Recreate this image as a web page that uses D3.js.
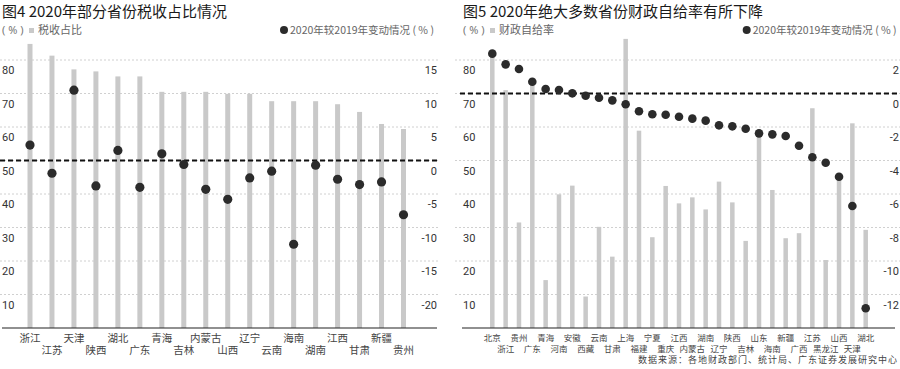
<!DOCTYPE html>
<html>
<head>
<meta charset="utf-8">
<script src="https://cdn.jsdelivr.net/npm/d3@7"></script>
<style>
  body { margin: 0; background: #fff; }
  svg { display: block; font-family: "Noto Sans CJK SC", "Noto Sans", sans-serif; }
</style>
</head>
<body>
<svg id="chart"></svg>
<script>
const width = 900;
const height = 369;

// 图4 data
const provincesA = ["浙江","江苏","天津","陕西","湖北","广东","青海","吉林","内蒙古","山西","辽宁","云南","海南","湖南","江西","甘肃","新疆","贵州"];
const taxShare = [84.8, 81.3, 77.2, 76.6, 75.1, 75.1, 70.5, 70.5, 70.5, 69.9, 69.9, 67.7, 67.7, 67.7, 66.8, 64.5, 60.9, 59.4];
const taxChange = [2.3, -1.9, 10.5, -3.8, 1.5, -4.0, 1.0, -0.6, -4.3, -5.8, -2.6, -1.6, -12.5, -0.7, -2.8, -3.6, -3.2, -8.1];

// 图5 data
const provincesB = ["北京","浙江","贵州","广东","青海","河南","安徽","西藏","云南","甘肃","上海","福建","宁夏","重庆","江西","内蒙古","湖南","辽宁","陕西","吉林","山东","海南","新疆","广西","江苏","黑龙江","山西","天津","湖北"];
const selfRate = [82, 71, 31.5, 73.5, 14.3, 39.9, 42.5, 9.4, 30.2, 21.3, 86.3, 58.9, 27.1, 42.4, 37.2, 39.0, 35.4, 43.7, 37.5, 26.0, 58, 41.2, 26.8, 28.3, 65.6, 20.3, 44.2, 61.1, 29.3];
const rateChange = [2.38, 1.74, 1.46, 0.70, 0.27, 0.21, 0.01, -0.13, -0.25, -0.41, -0.64, -1.06, -1.24, -1.27, -1.39, -1.50, -1.62, -1.90, -1.96, -2.10, -2.38, -2.44, -2.54, -3.12, -3.81, -4.13, -4.97, -6.72, -12.82];

const leftTicks = [10, 20, 30, 40, 50, 60, 70, 80];
const rightTicksA = [15, 10, 5, 0, -5, -10, -15, -20];
const rightTicksB = [2, 0, -2, -4, -6, -8, -10, -12];

const barColor = "#c9c9c9";
const dotColor = "#2b2b2b";
const gridColor = "#c4c4c4";

const svg = d3.select("#chart").attr("width", width).attr("height", height);

function drawPanel(opt) {
  const g = svg.append("g");
  const yL = d3.scaleLinear().domain([0, 80]).range([328, 60]);
  const yR = d3.scaleLinear().domain(opt.rightDomain).range([328, 60]);
  const x = d3.scalePoint().domain(opt.cats).range(opt.xRange);

  // title + legend
  g.append("text").attr("x", opt.x0).attr("y", 17)
    .attr("font-size", 15).attr("fill", "#1a1a1a").text(opt.title);
  g.append("text").attr("x", opt.x0).attr("y", 34)
    .attr("font-size", 11).attr("fill", "#777").attr("font-family", "Noto Sans")
    .text("( % )");
  g.append("rect").attr("x", opt.x0 + 27).attr("y", 28).attr("width", 5).attr("height", 5).attr("fill", barColor);
  g.append("text").attr("x", opt.x0 + 36).attr("y", 34)
    .attr("font-size", 11).attr("fill", "#666").text(opt.barLabel);
  g.append("circle").attr("cx", opt.legendDot).attr("cy", 30).attr("r", 4).attr("fill", dotColor);
  g.append("text").attr("x", opt.legendDot + 6).attr("y", 34)
    .attr("font-size", 10.5).attr("fill", "#666")
    .text("2020年较2019年变动情况 ( % )");

  // gridlines + tick labels
  g.selectAll("line.grid").data(leftTicks).enter().append("line")
    .attr("x1", opt.gridX[0]).attr("x2", opt.gridX[1])
    .attr("y1", d => yL(d)).attr("y2", d => yL(d))
    .attr("stroke", gridColor).attr("stroke-width", 0.8).attr("stroke-dasharray", "2,2");
  g.selectAll("text.yl").data(leftTicks).enter().append("text")
    .attr("x", opt.x0).attr("y", d => yL(d) + 14)
    .attr("font-size", 11).attr("fill", "#333").attr("font-family", "Roboto")
    .text(d => d);
  g.selectAll("text.yr").data(opt.rightTicks).enter().append("text")
    .attr("x", opt.rightLabelX).attr("y", d => yR(d) + 14).attr("text-anchor", "end")
    .attr("font-size", 11).attr("fill", "#333").attr("font-family", "Roboto")
    .text(d => d);

  // bars
  g.selectAll("rect.bar").data(opt.bars).enter().append("rect")
    .attr("x", (d, i) => x(opt.cats[i]) - opt.barW / 2)
    .attr("y", d => yL(d))
    .attr("width", opt.barW)
    .attr("height", d => yL(0) - yL(d))
    .attr("fill", barColor);

  // zero line of the change axis
  g.append("line").attr("x1", opt.zeroX[0]).attr("x2", opt.zeroX[1])
    .attr("y1", yR(0)).attr("y2", yR(0))
    .attr("stroke", "#111").attr("stroke-width", 2.2).attr("stroke-dasharray", "5,3");

  // baseline
  g.append("line").attr("x1", opt.baseX[0]).attr("x2", opt.baseX[1])
    .attr("y1", yL(0)).attr("y2", yL(0)).attr("stroke", "#222").attr("stroke-width", 1.2);

  // dots
  g.selectAll("circle.dot").data(opt.dots).enter().append("circle")
    .attr("cx", (d, i) => x(opt.cats[i]))
    .attr("cy", d => yR(d))
    .attr("r", opt.r)
    .attr("fill", dotColor);

  // staggered category labels
  g.selectAll("text.cat").data(opt.cats).enter().append("text")
    .attr("x", d => x(d))
    .attr("y", (d, i) => i % 2 === 0 ? opt.rowY[0] : opt.rowY[1])
    .attr("text-anchor", "middle")
    .attr("font-size", opt.catSize).attr("fill", "#444")
    .text(d => d);
}

drawPanel({
  title: "图4 2020年部分省份税收占比情况",
  barLabel: "税收占比",
  cats: provincesA, bars: taxShare, dots: taxChange,
  rightDomain: [-25, 15], rightTicks: rightTicksA,
  xRange: [30, 403.5], x0: 2, legendDot: 284, rightLabelX: 437,
  gridX: [0, 440], zeroX: [0, 438], baseX: [2, 437],
  barW: 5, r: 4.6, catSize: 10.5, rowY: [341.5, 353.5]
});

drawPanel({
  title: "图5 2020年绝大多数省份财政自给率有所下降",
  barLabel: "财政自给率",
  cats: provincesB, bars: selfRate, dots: rateChange,
  rightDomain: [-14, 2], rightTicks: rightTicksB,
  xRange: [492.3, 865.7], x0: 463, legendDot: 746.7, rightLabelX: 899,
  gridX: [455, 900], zeroX: [460, 900], baseX: [462, 895],
  barW: 4.5, r: 4.3, catSize: 8.5, rowY: [340.5, 352]
});

svg.append("text").attr("x", 898).attr("y", 362.5).attr("text-anchor", "end")
  .attr("font-size", 9).attr("letter-spacing", 1).attr("fill", "#444")
  .text("数据来源：各地财政部门、统计局、广东证券发展研究中心");
</script>
</body>
</html>
